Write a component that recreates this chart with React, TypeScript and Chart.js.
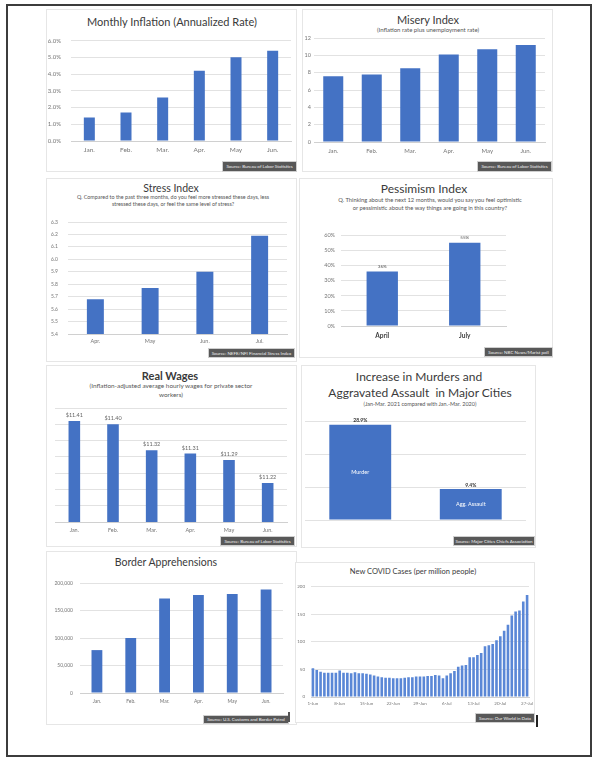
import React, { useEffect, useRef } from "react";
import { Chart, registerables } from "chart.js";

Chart.register(...registerables);

const FONT = "Lato, 'Open Sans', 'Liberation Sans', sans-serif";
const BLUE = "#4472C4";
const TICK = "#767676";
const GRID = "#e2e2e2";
const SUB = "#555555";

// ---------- data ----------
const inflationMonths = ["Jan.", "Feb.", "Mar.", "Apr.", "May", "Jun."];
const inflationRates = [1.4, 1.7, 2.6, 4.2, 5.0, 5.4];

const miseryMonths = ["Jan.", "Feb.", "Mar.", "Apr.", "May", "Jun."];
const miseryValues = [7.6, 7.8, 8.5, 10.1, 10.7, 11.2];

const stressMonths = ["Apr.", "May", "Jun.", "Jul."];
const stressValues = [5.68, 5.77, 5.9, 6.19];

const pessimismPeriods = ["April", "July"];
const pessimismValues = [36, 55];

const wageMonths = ["Jan.", "Feb.", "Mar.", "Apr.", "May", "Jun."];
const realWages = [11.41, 11.4, 11.32, 11.31, 11.29, 11.22];

const crimeCategories = ["Murder", "Agg. Assault"];
const crimeIncrease = [28.9, 9.4];

const borderMonths = ["Jan.", "Feb.", "Mar.", "Apr.", "May", "Jun."];
const borderApprehensions = [78000, 100000, 172000, 178000, 180000, 188000];

const covidDates = [
  "1-Jun", "2-Jun", "3-Jun", "4-Jun", "5-Jun", "6-Jun", "7-Jun", "8-Jun", "9-Jun", "10-Jun",
  "11-Jun", "12-Jun", "13-Jun", "14-Jun", "15-Jun", "16-Jun", "17-Jun", "18-Jun", "19-Jun", "20-Jun",
  "21-Jun", "22-Jun", "23-Jun", "24-Jun", "25-Jun", "26-Jun", "27-Jun", "28-Jun", "29-Jun", "30-Jun",
  "1-Jul", "2-Jul", "3-Jul", "4-Jul", "5-Jul", "6-Jul", "7-Jul", "8-Jul", "9-Jul", "10-Jul",
  "11-Jul", "12-Jul", "13-Jul", "14-Jul", "15-Jul", "16-Jul", "17-Jul", "18-Jul", "19-Jul", "20-Jul",
  "21-Jul", "22-Jul", "23-Jul", "24-Jul", "25-Jul", "26-Jul", "27-Jul",
];
const covidCases = [
  52, 49, 46, 44, 44, 44, 44, 48, 44, 44, 43, 45, 43, 43, 42, 41, 39, 37, 36, 35, 35, 34, 34, 34, 35, 36, 36, 37, 37, 37,
  38, 38, 40, 39, 34, 39, 43, 47, 55, 57, 58, 72, 72, 76, 80, 92, 94, 96, 103, 110, 120, 131, 148, 155, 157, 173, 185,
];
const covidTickLabels = ["1-Jun", "8-Jun", "15-Jun", "22-Jun", "29-Jun", "6-Jul", "13-Jul", "20-Jul", "27-Jul"];

// ---------- helpers ----------
type Geo = {
  plotLeft: number;
  plotRight: number;
  plotTop: number;
  plotBottom: number;
  yW: number;
  xH: number;
  padTop?: number;
  padRight?: number;
};

function ChartBox({ geo, config }: { geo: Geo; config: () => any }) {
  const ref = useRef<HTMLCanvasElement>(null);
  const padTop = geo.padTop ?? 8;
  const padRight = geo.padRight ?? 10;
  const left = geo.plotLeft - geo.yW;
  const top = geo.plotTop - padTop;
  const width = geo.plotRight + padRight - left;
  const height = geo.plotBottom + geo.xH - top;
  useEffect(() => {
    const cfg = config();
    const o = cfg.options || (cfg.options = {});
    o.animation = false;
    o.responsive = false;
    o.maintainAspectRatio = false;
    o.devicePixelRatio = 1;
    o.layout = { padding: { top: padTop, right: padRight, left: 0, bottom: 0 } };
    o.plugins = {
      legend: { display: false },
      tooltip: { enabled: false },
      title: { display: false },
      ...(o.plugins || {}),
    };
    o.scales.x.afterFit = (s: any) => {
      s.height = geo.xH;
    };
    o.scales.y.afterFit = (s: any) => {
      s.width = geo.yW;
    };
    const chart = new Chart(ref.current as HTMLCanvasElement, cfg);
    return () => chart.destroy();
  }, []);
  return (
    <canvas
      ref={ref}
      width={width}
      height={height}
      style={{ position: "absolute", left, top, width, height }}
    />
  );
}

function xScale(size: number, padding: number, extra: any = {}) {
  return {
    grid: { display: false, drawTicks: false },
    border: { display: true, color: "#d0d0d0" },
    ticks: {
      autoSkip: false,
      maxRotation: 0,
      minRotation: 0,
      padding,
      color: TICK,
      font: { family: FONT, size },
    },
    ...extra,
  };
}

function yScale(min: number, max: number, step: number, size: number, padding: number, cb: ((v: number) => string) | null) {
  return {
    min,
    max,
    grid: { color: GRID, drawTicks: false, lineWidth: 1 },
    border: { display: false },
    ticks: {
      display: cb !== null,
      stepSize: step,
      padding,
      color: TICK,
      font: { family: FONT, size },
      callback: cb ? (v: any) => cb(Number(v)) : undefined,
    },
  };
}

function barDataset(values: number[], frac: number, color = BLUE) {
  return {
    data: values,
    backgroundColor: color,
    borderWidth: 0,
    categoryPercentage: 1,
    barPercentage: frac,
  };
}

function valueLabels(texts: string[], size: number, color: string, offset: number, bold = false) {
  return {
    id: "valueLabels",
    afterDatasetsDraw(chart: any) {
      const meta = chart.getDatasetMeta(0);
      const ctx = chart.ctx;
      ctx.save();
      ctx.font = `${bold ? "bold " : ""}${size}px ${FONT}`;
      ctx.fillStyle = color;
      ctx.textAlign = "center";
      ctx.textBaseline = "bottom";
      meta.data.forEach((bar: any, i: number) => {
        ctx.fillText(texts[i], bar.x, bar.y - offset);
      });
      ctx.restore();
    },
  };
}

function insideLabels(texts: string[], size: number) {
  return {
    id: "insideLabels",
    afterDatasetsDraw(chart: any) {
      const meta = chart.getDatasetMeta(0);
      const ctx = chart.ctx;
      ctx.save();
      ctx.font = `${size}px ${FONT}`;
      ctx.fillStyle = "#ffffff";
      ctx.textAlign = "center";
      ctx.textBaseline = "middle";
      meta.data.forEach((bar: any, i: number) => {
        ctx.fillText(texts[i], bar.x, (bar.y + bar.base) / 2);
      });
      ctx.restore();
    },
  };
}

function Text({ x, y, size, children, weight = 400, color = "#3a3a3a" }: any) {
  return (
    <div
      style={{
        position: "absolute",
        left: x,
        top: y,
        transform: "translate(-50%, -50%)",
        whiteSpace: "nowrap",
        fontFamily: FONT,
        fontSize: size,
        fontWeight: weight,
        color,
        lineHeight: 1,
      }}
    >
      {children}
    </div>
  );
}

function Card({ l, t, r, b }: any) {
  return (
    <div
      style={{
        position: "absolute",
        left: l,
        top: t,
        width: r - l,
        height: b - t,
        boxSizing: "border-box",
        border: "1px solid #e6e6e6",
        background: "#ffffff",
      }}
    />
  );
}

function Source({ l, t, r, b, text }: any) {
  return (
    <div
      style={{
        position: "absolute",
        left: l,
        top: t,
        width: r - l,
        height: b - t,
        boxSizing: "border-box",
        background: "#585858",
        border: "1px solid #cfcfcf",
        color: "#f0f0f0",
        fontFamily: FONT,
        fontSize: 4.5,
        display: "flex",
        alignItems: "center",
        justifyContent: "center",
        whiteSpace: "nowrap",
        overflow: "hidden",
      }}
    >
      {text}
    </div>
  );
}

// ---------- app ----------
export default function App() {
  return (
    <div style={{ position: "absolute", left: 0, top: 0, width: 607, height: 768, background: "#ffffff", overflow: "hidden" }}>
      {/* outer frame */}
      <div
        style={{
          position: "absolute",
          left: 6,
          top: 4,
          width: 586,
          height: 753,
          boxSizing: "border-box",
          border: "2px solid #3c3c3c",
        }}
      />

      {/* 1. Monthly Inflation */}
      <Card l={46} t={9} r={297} b={172} />
      <Text x={172} y={21} size={11}>Monthly Inflation (Annualized Rate)</Text>
      <ChartBox
        geo={{ plotLeft: 71, plotRight: 291, plotTop: 35, plotBottom: 141, yW: 27, xH: 16 }}
        config={() => ({
          type: "bar",
          data: { labels: inflationMonths, datasets: [barDataset(inflationRates, 0.3)] },
          options: {
            scales: {
              x: xScale(6.5, 5),
              y: yScale(0, 6, 1, 6, 10, (v) => v.toFixed(1) + "%"),
            },
          },
        })}
      />
      <Source l={222} t={161} r={297} b={172} text="Source: Bureau of Labor Statistics" />

      {/* 2. Misery Index */}
      <Card l={302} t={9} r={553} b={172} />
      <Text x={428} y={19} size={11}>Misery Index</Text>
      <Text x={428} y={30} size={6} color={SUB}>(Inflation rate plus unemployment rate)</Text>
      <ChartBox
        geo={{ plotLeft: 314, plotRight: 545, plotTop: 38, plotBottom: 142, yW: 11, xH: 15 }}
        config={() => ({
          type: "bar",
          data: { labels: miseryMonths, datasets: [barDataset(miseryValues, 0.52)] },
          options: {
            scales: {
              x: xScale(6, 5),
              y: yScale(0, 12, 2, 5.5, 3, (v) => String(v)),
            },
          },
        })}
      />
      <Source l={477} t={161} r={552} b={172} text="Source: Bureau of Labor Statistics" />

      {/* 3. Stress Index */}
      <Card l={46} t={178} r={297} b={362} />
      <Text x={171} y={188} size={10.5}>Stress Index</Text>
      <Text x={173} y={198} size={5.4} color={SUB}>
        Q. Compared to the past three months, do you feel more stressed these days, less
      </Text>
      <Text x={173} y={204.5} size={5.4} color={SUB}>
        stressed these days, or feel the same level of stress?
      </Text>
      <ChartBox
        geo={{ plotLeft: 68, plotRight: 287, plotTop: 217, plotBottom: 334, yW: 22, xH: 14 }}
        config={() => ({
          type: "bar",
          data: { labels: stressMonths, datasets: [barDataset(stressValues, 0.31)] },
          options: {
            scales: {
              x: xScale(5.5, 4),
              y: yScale(5.4, 6.3, 0.1, 5, 10, (v) => v.toFixed(1)),
            },
          },
        })}
      />
      <Source l={208} t={348} r={295} b={358} text="Source: NEFE/NFI Financial Stress Index" />

      {/* 4. Pessimism Index */}
      <Card l={299} t={178} r={553} b={358} />
      <Text x={424} y={189} size={12}>Pessimism Index</Text>
      <Text x={430} y={200} size={5.8} color={SUB}>
        Q. Thinking about the next 12 months, would you say you feel optimistic
      </Text>
      <Text x={430} y={208} size={5.8} color={SUB}>
        or pessimistic about the way things are going in this country?
      </Text>
      <ChartBox
        geo={{ plotLeft: 341, plotRight: 506, plotTop: 234, plotBottom: 326, yW: 24, xH: 16 }}
        config={() => ({
          type: "bar",
          data: { labels: pessimismPeriods, datasets: [barDataset(pessimismValues, 0.38)] },
          options: {
            scales: {
              x: xScale(6.5, 6, { ticks: { autoSkip: false, maxRotation: 0, padding: 6, color: "#404040", font: { family: FONT, size: 6.5, weight: "bold" } } }),
              y: yScale(0, 60, 10, 5.5, 6, (v) => v + "%"),
            },
          },
          plugins: [valueLabels(pessimismValues.map((v) => v + "%"), 4.5, "#555", 3)],
        })}
      />
      <Source l={484} t={347} r={553} b={357} text="Source: NBC News/Marist poll" />

      {/* 5. Real Wages */}
      <Card l={46} t={365} r={297} b={547} />
      <Text x={170} y={375} size={11} weight={700}>Real Wages</Text>
      <Text x={171} y={386} size={6.4} color={SUB}>(Inflation-adjusted average hourly wages for private sector</Text>
      <Text x={171} y={395} size={6.4} color={SUB}>workers)</Text>
      <ChartBox
        geo={{ plotLeft: 55, plotRight: 287, plotTop: 408, plotBottom: 522, yW: 0, xH: 14 }}
        config={() => ({
          type: "bar",
          data: { labels: wageMonths, datasets: [barDataset(realWages, 0.3)] },
          options: {
            scales: {
              x: xScale(5.5, 5),
              y: yScale(11.1, 11.45, 0.05, 5, 0, null),
            },
          },
          plugins: [valueLabels(realWages.map((v) => "$" + v.toFixed(2)), 5.5, "#666", 3)],
        })}
      />
      <Source l={220} t={536} r={295} b={546} text="Source: Bureau of Labor Statistics" />

      {/* 6. Murders and Aggravated Assault */}
      <Card l={301} t={365} r={536} b={548} />
      <Text x={419} y={377} size={12}>Increase in Murders and</Text>
      <Text x={420} y={393} size={12}>Aggravated Assault&nbsp; in Major Cities</Text>
      <Text x={420} y={405} size={5.5} color={SUB}>(Jan-Mar. 2021 compared with Jan.-Mar. 2020)</Text>
      <ChartBox
        geo={{ plotLeft: 305, plotRight: 526, plotTop: 421, plotBottom: 520, yW: 0, xH: 1 }}
        config={() => ({
          type: "bar",
          data: { labels: crimeCategories, datasets: [barDataset(crimeIncrease, 0.56)] },
          options: {
            scales: {
              x: xScale(5, 0, { ticks: { display: false }, border: { display: false } }),
              y: yScale(0, 30, 10, 5, 0, null),
            },
          },
          plugins: [
            valueLabels(crimeIncrease.map((v) => v.toFixed(1) + "%"), 5, "#333", 1.5, true),
            insideLabels(crimeCategories, 5.5),
          ],
        })}
      />
      <Source l={453} t={536} r={535} b={546} text="Source: Major Cities Chiefs Association" />

      {/* 7. Border Apprehensions */}
      <Card l={46} t={551} r={297} b={725} />
      <Text x={166} y={562} size={10.5}>Border Apprehensions</Text>
      <ChartBox
        geo={{ plotLeft: 80, plotRight: 283, plotTop: 581, plotBottom: 693, yW: 34, xH: 14 }}
        config={() => ({
          type: "bar",
          data: { labels: borderMonths, datasets: [barDataset(borderApprehensions, 0.32)] },
          options: {
            scales: {
              x: xScale(5, 5),
              y: yScale(0, 200000, 50000, 5, 7, (v) => v.toLocaleString("en-US")),
            },
          },
        })}
      />
      <Source l={203} t={715} r={289} b={724} text="Source: U.S. Customs and Border Patrol" />

      {/* 8. New COVID Cases */}
      <Card l={295} t={562} r={535} b={723} />
      <Text x={413} y={572} size={7.5}>New COVID Cases (per million people)</Text>
      <ChartBox
        geo={{ plotLeft: 311, plotRight: 529, plotTop: 586, plotBottom: 697, yW: 16, xH: 12, padRight: 10 }}
        config={() => ({
          type: "bar",
          data: { labels: covidDates, datasets: [barDataset(covidCases, 0.68, "#5A87D6")] },
          options: {
            scales: {
              x: xScale(4.5, 4, {
                ticks: {
                  autoSkip: false,
                  maxRotation: 0,
                  minRotation: 0,
                  padding: 4,
                  color: TICK,
                  font: { family: FONT, size: 4.5 },
                  callback: (_v: any, i: number) => (covidTickLabels.includes(covidDates[i]) ? covidDates[i] : ""),
                },
              }),
              y: yScale(0, 200, 50, 4.5, 6, (v) => String(v)),
            },
          },
        })}
      />
      <Source l={475} t={713} r={535} b={723} text="Source: Our World in Data" />
      {/* small dark marks */}
      <div style={{ position: "absolute", left: 536, top: 715, width: 2, height: 12, background: "#222" }} />
      <div style={{ position: "absolute", left: 288, top: 712, width: 2, height: 10, background: "#555" }} />
    </div>
  );
}
